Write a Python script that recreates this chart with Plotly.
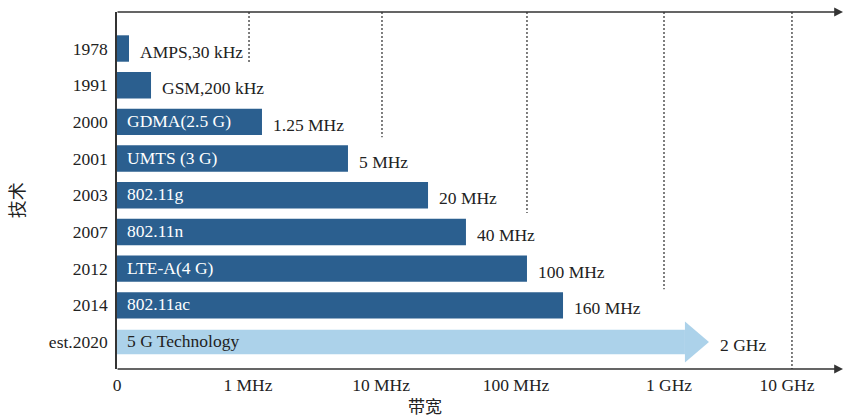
import plotly.graph_objects as go

# ---- data (x in "decade units": 0 = axis origin, ~1 unit per decade of bandwidth) ----
years = ["1978", "1991", "2000", "2001", "2003", "2007", "2012", "2014", "est.2020"]
inside_labels = ["", "", "GDMA(2.5 G)", "UMTS (3 G)", "802.11g", "802.11n",
                 "LTE-A(4 G)", "802.11ac", "5 G Technology"]
bandwidth_labels = ["AMPS,30 kHz", "GSM,200 kHz", "1.25 MHz", "5 MHz", "20 MHz",
                    "40 MHz", "100 MHz", "160 MHz", "2 GHz"]
bar_extent = [0.089, 0.252, 1.074, 1.711, 2.304, 2.585, 3.037, 3.304, 4.385]

tick_labels = ["0", "1 MHz", "10 MHz", "100 MHz", "1 GHz", "10 GHz"]
tick_pos = [0.0, 0.97, 1.956, 2.956, 4.089, 4.963]
grid_pos = [0.978, 1.963, 3.037, 4.052, 5.0]
grid_end = [0.40, 2.42, 4.48, 6.56, 8.735]

DARK = "#2b5f8f"
LIGHT = "#acd2ea"
INK = "#222222"
LINE = "#333333"
SERIF = "Liberation Serif, Times New Roman, serif"
CJK = "Noto Sans CJK SC"
FS = 17.5

n = len(years)
idx = list(range(n))
Y_TOP, Y_BOT = -0.995, 8.735
X_MAX = 5.378

fig = go.Figure()

# dark bars (all except the 5G arrow)
fig.add_trace(go.Bar(
    y=idx[:-1], x=bar_extent[:-1], base=0, orientation="h",
    marker=dict(color=DARK, line=dict(width=0)), width=0.72,
    hoverinfo="skip", showlegend=False))

# 5G arrow: shaft as bar + triangular head
head_len = 0.178
shaft_end = bar_extent[-1] - head_len
fig.add_trace(go.Bar(
    y=[idx[-1]], x=[shaft_end], base=0, orientation="h",
    marker=dict(color=LIGHT, line=dict(width=0)), width=0.67,
    hoverinfo="skip", showlegend=False))
fig.add_trace(go.Scatter(
    x=[shaft_end, bar_extent[-1], shaft_end, shaft_end],
    y=[idx[-1] - 0.56, idx[-1], idx[-1] + 0.56, idx[-1] - 0.56],
    fill="toself", fillcolor=LIGHT, mode="lines", line=dict(width=0, color=LIGHT),
    hoverinfo="skip", showlegend=False))

# dashed reference lines
for gx, ge in zip(grid_pos, grid_end):
    fig.add_shape(type="line", xref="x", yref="y", x0=gx, x1=gx, y0=Y_TOP, y1=ge,
                  line=dict(color="#3a3a3a", width=1.3, dash="2px,2px"), layer="below")

annotations = []
# labels inside bars
for i, t in enumerate(inside_labels):
    if t:
        annotations.append(dict(
            x=0, y=i, xref="x", yref="y", text=t, showarrow=False,
            xanchor="left", yanchor="middle", xshift=8, yshift=1,
            font=dict(family=SERIF, size=FS, color=(INK if i == n - 1 else "white"))))
# bandwidth labels after bars
for i, t in enumerate(bandwidth_labels):
    annotations.append(dict(
        x=bar_extent[i], y=i, xref="x", yref="y", text=t, showarrow=False,
        xanchor="left", yanchor="middle", xshift=9, yshift=-3,
        font=dict(family=SERIF, size=FS, color=INK)))

# top and bottom axis lines with arrow heads
for yp in (1, 0):
    annotations.append(dict(
        x=1, y=yp, xref="paper", yref="paper", ax=-727, ay=0, axref="pixel", ayref="pixel",
        showarrow=True, arrowhead=2, arrowsize=1.1, arrowwidth=1.6, arrowcolor=LINE,
        standoff=0, text=""))

# axis titles
annotations.append(dict(x=-0.139, y=0.473, xref="paper", yref="paper", text="技术",
                        showarrow=False, textangle=-90, xanchor="center", yanchor="middle",
                        font=dict(family=CJK, size=18, color=INK)))
annotations.append(dict(x=0.424, y=-0.102, xref="paper", yref="paper", text="带宽",
                        showarrow=False, xanchor="center", yanchor="middle",
                        font=dict(family=CJK, size=17, color=INK)))

fig.update_layout(
    width=845, height=420,
    margin=dict(l=117, r=2, t=12, b=51),
    paper_bgcolor="white", plot_bgcolor="white",
    bargap=0.2,
    xaxis=dict(range=[0, X_MAX], tickvals=tick_pos, ticktext=tick_labels,
               showgrid=False, zeroline=False, showline=False, ticks="",
               ticklabelstandoff=3,
               tickfont=dict(family=SERIF, size=FS, color=INK)),
    yaxis=dict(range=[Y_BOT, Y_TOP], tickvals=idx, ticktext=years,
               showgrid=False, zeroline=False, showline=True,
               linecolor=LINE, linewidth=1.6, ticks="", ticklabelstandoff=4,
               tickfont=dict(family=SERIF, size=FS, color=INK)),
    annotations=annotations,
)

fig.write_html("out.html")
